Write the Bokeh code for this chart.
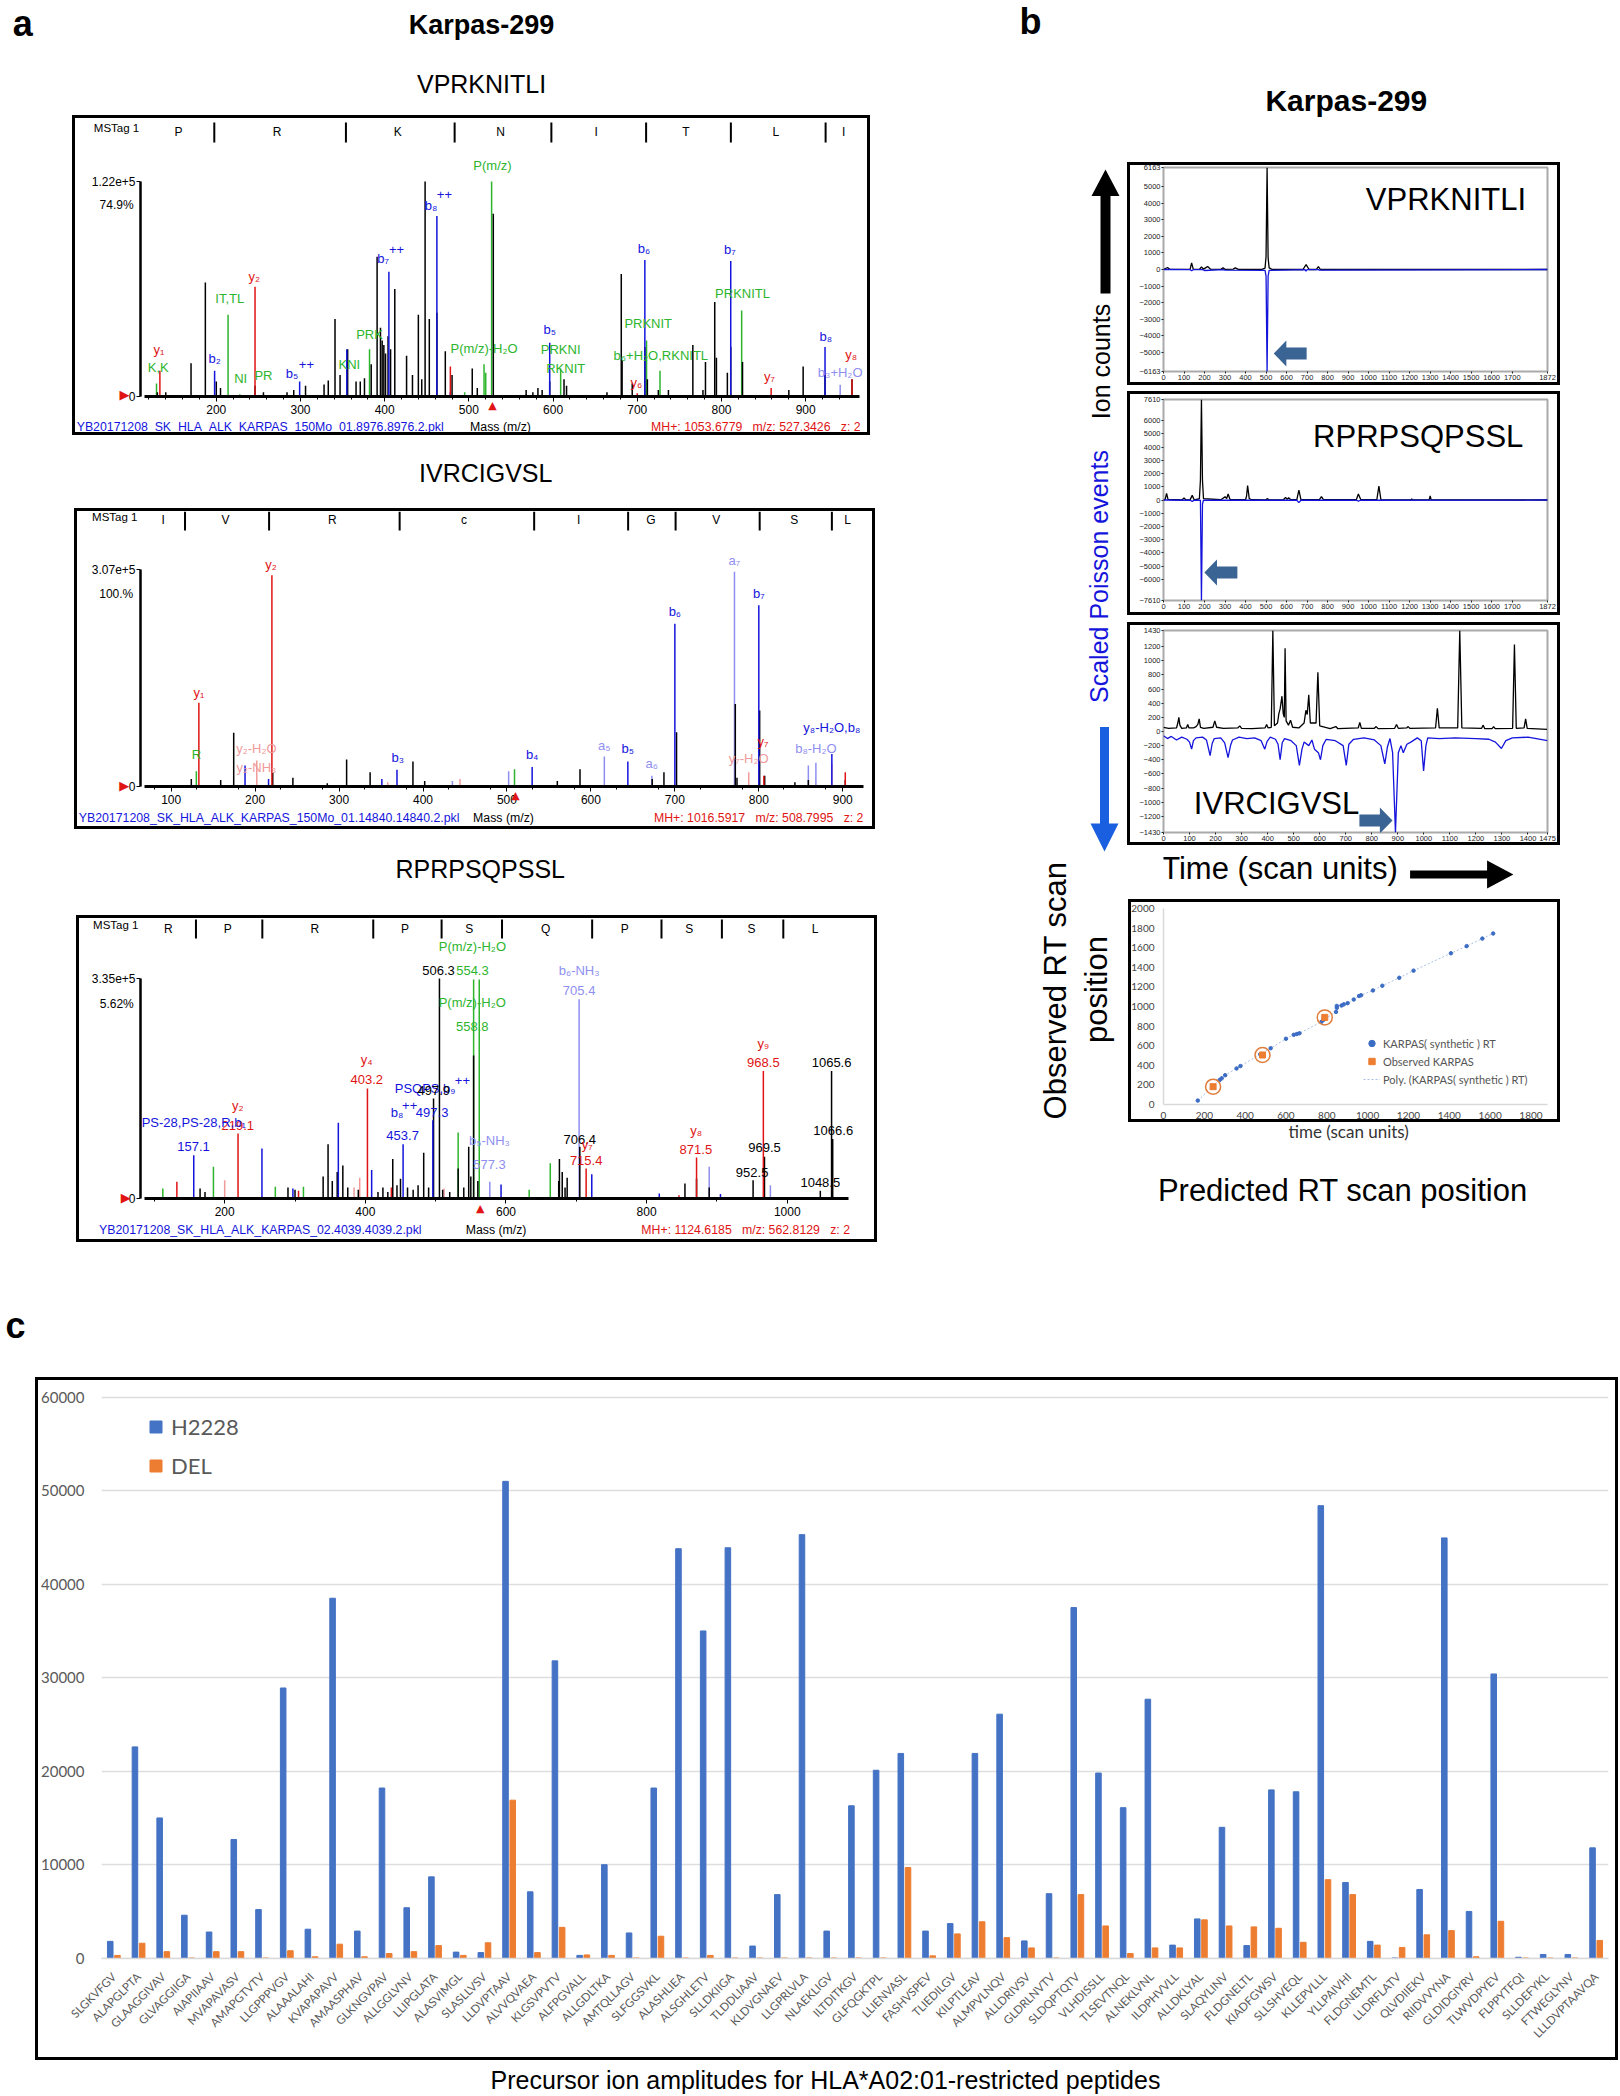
from math import pi
from bokeh.embed import file_html
from bokeh.resources import INLINE
from bokeh.plotting import figure
from bokeh.layouts import column, row
from bokeh.models import (Range1d, FactorRange, LinearAxis, CategoricalAxis, FixedTicker, Grid, Label,
                          Legend, LegendItem, ColumnDataSource)
from bokeh.transform import dodge
from bokeh.core.properties import value

# ---------------- panel c data ----------------
PEPTIDES = ["SLGKVFGV","ALAPGLPTA","GLAAGGIVAV","GLVAGGIIGA","AIAPIIAAV","MVAPAVASV","AMAPGTVTV","LLGPPPVGV","ALAAALAHI","KVAPAPAVV",
            "AMAASPHAV","GLKNGVPAV","ALLGGLVNV","LLIPGLATA","ALASVIMGL","SLASLLVSV","LLDVPTAAV","ALVVQVAEA","KLGSVPVTV","ALFPGVALL",
            "ALLGDLTKA","AMTQLLAGV","SLFGGSVKL","ALASHLIEA","ALSGHLETV","SLLDKIIGA","TLDDLIAAV","KLDVGNAEV","LLGPRLVLA","NLAEKLIGV",
            "ILTDITKGV","GLFQGKTPL","LLIENVASL","FASHVSPEV","TLIEDILGV","KILPTLEAV","ALMPVLNQV","ALLDRIVSV","GLDRLNVTV","SLDQPTQTV",
            "VLHDISSLL","TLSEVTNQL","ALNEKLVNL","ILDPHVVLL","ALLDKLYAL","SLAQYLINV","FLDGNELTL","KIADFGWSV","SLLSHVEQL","KLLEPVLLL",
            "YLLPAIVHI","FLDGNEMTL","LLDRFLATV","QLVDIIEKV","RIIDVVYNA","GLDIDGIYRV","TLWVDPYEV","FLPPYTFQI","SLLDEFYKL","FTWEGLYNV","LLLDVPTAAVQA"]
H2228 = [1800,22600,15000,4600,2800,12700,5200,28900,3100,38500,
         2900,18200,5400,8700,650,600,51000,7100,31800,300,
         10000,2700,18200,43800,35000,43900,1300,6800,45300,2900,
         16300,20100,21900,2900,3700,21900,26100,1850,6900,37500,
         19800,16100,27700,1400,4200,14000,1350,18000,17800,48400,
         8100,1800,0,7350,44950,5000,30400,100,400,400,11800]
DEL = [300,1600,700,0,700,700,0,800,150,1500,
       150,500,700,1350,300,1650,16900,600,3300,350,
       300,0,2350,0,300,0,0,0,0,0,
       0,0,9700,250,2600,3900,2200,1100,0,6800,
       3450,500,1100,1100,4100,3450,3350,3200,1700,8400,
       6800,1400,1150,2500,2950,150,3950,0,0,0,1900]

# ---------------- panel a data (m/z, % of base peak) ----------------
S1_BLACK_MZ = [130,140,170,187,200,205,246,256,284,292,306,328,333,341,347,356,366,371,376,384,391,395,397,399,401,404,407,412,426,433,440,444,448,453,462,472,480,504,510,529,568,576,582,587,596,613,616,664,681,682,694,709,712,725,737,766,778,781,792,794,807,811,825,880,897,923,955]
S1_BLACK_INT = [2,2,15.5,53,7,4,5,2,2,3,5,5.6,7.5,36,10,22,7,7,8.5,15,65,32,26,24,20,28,22,50,19,10,38,8,100,36,39,21,10,13,4,85,3,2,4,3,7,8,5,2,57,17,6,23,8,3,3,24,3,16,44,18,11,23,16,3,14,10,8]
S1_BLUE_MZ = [198,299,355,405,462,478,596,709,811,923]
S1_BLUE_INT = [12,7,22,58,84,2,25,63.5,63,23]
S1_LBLUE_MZ = [941]
S1_LBLUE_INT = [5.5]
S1_GREEN_MZ = [129,214,228,382,495,518,520,527,568,609,711,727,824]
S1_GREEN_INT = [6,38,1,22,2,15,11,100,1,13,26,12,40]
S1_RED_MZ = [133,246,478,700,859,955]
S1_RED_INT = [12,51,14,1.5,4,8]
S1_LRED_MZ = []
S1_LRED_INT = []

S2_BLACK_MZ = [124,159,174.5,221,245,286,309,337,388,402,560,587,673,687,702,772,774,801,807,843,859,903]
S2_BLACK_INT = [3.5,3,24.8,6.6,4,1.5,12.5,6.6,11.5,2.5,2.5,8,3.5,6.6,25,38,4,35,5,2,3,3]
S2_BLUE_MZ = [188,216,351,369,530,644,700,800,887]
S2_BLUE_INT = [9.7,3.5,3.5,7.7,9,11.5,75,83.5,15]
S2_LBLUE_MZ = [435,502,616,672.6,771,859,868]
S2_LBLUE_INT = [2.5,7,13.8,5,99,9.7,11]
S2_GREEN_MZ = [130,509]
S2_GREEN_INT = [7,8]
S2_RED_MZ = [133,220,806,903]
S2_RED_INT = [38.6,97.4,5,6.6]
S2_LRED_MZ = [202,358,444,788,887]
S2_LRED_INT = [12,2,3.5,6.6,10.5]

S3_BLACK_MZ = [165,172,290,300,340,347,353,360,368,375,390,418,425,432,439,445,450,460,468,475,483,490,497,505.4,510,520,532,540,547,550,554,560,675,676,680,684,687,705,854.5,871,889,951.4,967.6,1047,1063,1064.6]
S3_BLACK_INT = [4.5,3,5,4,10,24.7,8,12,15,5,4,3,5,3,18,6,9,5,4,6,20.8,5,45.5,100,4,3,13.6,5,23.5,10,65,8,8,18,12,5,9.4,23.5,6.8,9,5,8.3,19,3.5,58,27]
S3_BLUE_MZ = [156,253,297,361.6,409,453.7,496,593,722,818,905]
S3_BLUE_INT = [19.7,22.7,4.5,34.4,13,24.7,35.6,6.4,11,2.3,2]
S3_LBLUE_MZ = [577,704,889,976]
S3_LBLUE_INT = [7.6,90.6,14.4,6]
S3_GREEN_MZ = [112,184,272,312,532,554,562,633,663]
S3_GREEN_INT = [4.5,14.4,5.3,5.3,30,99.5,99.5,4,16]
S3_RED_MZ = [132,219,305,403,437,714,846,871,966]
S3_RED_INT = [7.6,29.5,3.5,50,5,13.6,1.5,18.6,58]
S3_LRED_MZ = [200,384,392,512]
S3_LRED_INT = [8.3,5,9.4,4.5]

S1_LABELS = [(528,107.6,"P(m/z)","G"),(455,89,"b₈","B"),(471,94,"++","B"),(398,64,"b₇","B"),(414,68.6,"++","B"),(245,56,"y₂","R"),
             (216,45.7,"IT,TL","G"),(708,69,"b₆","B"),(810,68.6,"b₇","B"),(825,48,"PRKNITL","G"),(713,34,"PRKNIT","G"),(609,22,"PRKNI","G"),
             (615,13,"RKNIT","G"),(382,29,"PRK","G"),(358,15,"KNI","G"),(596,31,"b₅","B"),(518,22.4,"P(m/z)-H₂O","G"),(728,19,"b₆+H₂O,RKNITL","G"),
             (132,21.7,"y₁","R"),(131,13.3,"K,K","G"),(198,17.5,"b₂","B"),(229,8.5,"NI","G"),(256,9.8,"PR","G"),(290,10.5,"b₅","B"),(307,15,"++","B"),
             (699,6.3,"y₆","R"),(924,28,"b₈","B"),(954,19.5,"y₈","R"),(857,9.3,"y₇","R"),(941,11,"b₃+H₂O","L")]
S2_LABELS = [(133,43.5,"y₁","R"),(219,102.5,"y₂","R"),(201.5,17.4,"y₂-H₂O","P"),(201.5,8.6,"y₂-NH₃","P"),(130,14.8,"R","G"),(370,13.5,"b₃","B"),
             (530,14.6,"b₄","B"),(616,19,"a₅","L"),(644,17.4,"b₅","B"),(672.6,10.8,"a₆","L"),(700,80.5,"b₆","B"),(771,104,"a₇","L"),(800,89,"b₇","B"),
             (805,20.8,"y₇","R"),(788,12.8,"y₇-H₂O","P"),(868,17.4,"b₈-H₂O","L"),(887,27,"y₈-H₂O,b₈","B")]
S3_LABELS = [(552.3,114.4,"P(m/z)-H₂O","G"),(552.3,103.5,"554.3","G"),(504,103.5,"506.3","K"),(704,103.8,"b₆-NH₃","L"),(704,94.4,"705.4","L"),
             (552,89,"P(m/z)-H₂O","G"),(552,78,"558.8","G"),(966,70.5,"y₉","R"),(966,62,"968.5","R"),(1063,62,"1065.6","K"),(402,63,"y₄","R"),(402,54,"403.2","R"),
             (218.6,42.4,"y₂","R"),(218.6,33,"219.1","R"),(156,34.4,"PS-28,PS-28,R,b₁","B"),(155.6,23.8,"157.1","B"),(485,50,"PSQPS,b₉","B"),(538,53.5,"++","B"),
             (497.4,49,"497.9","K"),(445,39,"b₈","B"),(463,42.4,"++","B"),(495,39,"497.3","B"),(453,28.5,"453.7","B"),(576.5,26.5,"b₅-NH₃","L"),(576.5,15.6,"577.3","L"),
             (705,27,"706.4","K"),(715.5,24.5,"y₇","R"),(714,17.4,"715.4","R"),(870.6,31,"y₈","R"),(870,22.4,"871.5","R"),(967.6,23,"969.5","K"),(950,12,"952.5","K"),
             (1065.4,30.8,"1066.6","K"),(1047,7.3,"1048.5","K")]

# ---------------- panel b data ----------------
B1_X_BLACK = [0,5,20,30,100,130,137,145,175,185,195,205,215,230,280,290,300,340,350,365,480,495,500,505,510,515,530,680,695,710,745,755,765,1872]
B1_Y_BLACK = [0,30,120,20,10,20,400,20,10,150,20,100,180,20,10,110,10,20,100,10,10,80,800,6163,700,100,0,0,300,0,0,180,0,0]
B1_X_BLUE = [0,130,137,145,190,200,290,300,495,500,505,510,515,690,695,700,755,760,1872]
B1_Y_BLUE = [0,-10,-80,-10,-10,-60,-10,-40,-50,-400,-6163,-400,-50,-10,-100,-10,-10,-40,0]
B2_X_BLACK = [0,8,15,22,90,100,110,130,140,150,175,180,185,190,195,280,300,308,315,325,400,405,410,418,430,500,505,515,585,595,603,610,620,650,660,670,760,770,780,940,950,962,1040,1050,1060,1205,1210,1215,1295,1300,1305,1872]
B2_Y_BLACK = [0,50,500,50,0,150,0,30,350,0,100,1500,7610,1500,100,20,250,100,450,20,20,300,1100,100,20,10,100,10,20,200,50,180,20,30,750,20,30,250,20,20,450,20,20,1050,20,10,80,10,10,300,10,0]
B2_X_BLUE = [0,130,140,150,180,185,190,195,650,660,670,940,950,960,1872]
B2_Y_BLUE = [0,-20,-100,-20,-20,-7610,-300,-20,-20,-200,-20,-20,-80,-20,0]
B3_X_BLACK = [0,20,50,55,59,63,70,88,93,98,115,125,132,137,142,155,190,197,204,230,285,293,300,340,390,396,402,414,420,426,438,443,448,455,460,464,467,471,480,488,496,520,540,547,552,558,564,586,593,600,640,662,670,748,754,760,810,817,824,888,895,902,934,940,946,1045,1052,1059,1130,1138,1146,1222,1228,1234,1262,1268,1274,1341,1348,1355,1385,1391,1397,1473]
B3_Y_BLACK = [60,45,50,120,200,90,45,50,100,50,50,70,100,180,60,45,60,150,60,45,50,80,45,40,50,100,50,60,1430,80,120,250,320,500,250,200,1180,150,90,160,60,50,120,300,240,520,120,120,840,80,40,70,40,50,130,45,45,70,40,45,100,45,50,70,45,50,330,50,50,1430,50,45,90,40,40,70,40,45,1230,45,50,180,45,30]
B3_X_BLUE = [0,15,30,50,70,90,100,108,115,125,150,165,179,187,195,220,235,248,258,265,290,320,350,375,389,398,410,430,440,448,456,465,490,510,522,532,540,558,570,580,595,603,612,625,660,690,702,712,730,770,810,835,850,860,870,880,891,902,912,921,935,950,975,990,999,1008,1015,1060,1120,1200,1250,1275,1298,1315,1340,1400,1475]
B3_Y_BLUE = [-60,-100,-70,-120,-80,-110,-150,-250,-130,-90,-80,-120,-340,-170,-100,-90,-160,-370,-190,-120,-80,-100,-90,-130,-250,-140,-80,-110,-180,-400,-160,-100,-130,-200,-480,-250,-150,-200,-120,-250,-300,-400,-200,-110,-130,-200,-480,-180,-110,-90,-120,-200,-460,-220,-100,-300,-1430,-300,-200,-300,-180,-150,-90,-130,-560,-200,-90,-100,-90,-100,-110,-150,-240,-130,-90,-80,-130]
RT_PRED = [168,275,285,302,358,377,474,525,600,638,653,666,774,785,845,849,849,872,883,902,932,958,968,1026,1072,1155,1225,1408,1485,1562,1615]
RT_OBS = [40,250,267,299,368,392,513,574,671,711,719,727,844,865,945,986,1006,1010,1022,1034,1071,1107,1115,1164,1212,1293,1366,1543,1616,1693,1745]
OBS_PRED = [243,485,790]
OBS_RT = [182,505,889]

FONT = "Liberation Sans"
COL = {"K":"#000000","B":"#1414dc","L":"#8f8ff0","R":"#e01414","P":"#f09a9a","G":"#2db52d"}
SP = "\u00a0\u00a0\u00a0"


class Panel:
    def __init__(self, canvas, frame, xcal=None, ycal=None, x_range=None):
        self.cl, self.cr, self.ct, self.cb = canvas
        self.fl, self.fr, self.ft, self.fb = frame
        self.xcal = xcal or (self.fl, self.fl, self.fr, self.fr)
        self.ycal = ycal or (self.ft, self.ft, self.fb, self.fb)
        xr = x_range if x_range is not None else Range1d(self.X(self.fl), self.X(self.fr))
        self.p = figure(width=self.cr-self.cl, height=self.cb-self.ct,
                        min_border_left=self.fl-self.cl, min_border_right=self.cr-self.fr,
                        min_border_top=self.ft-self.ct, min_border_bottom=self.cb-self.fb,
                        x_range=xr, y_range=Range1d(self.Y(self.fb), self.Y(self.ft)),
                        x_axis_type=None, y_axis_type=None, toolbar_location=None, output_backend="svg",
                        background_fill_color="white", border_fill_color="white")
        self.p.outline_line_color = None

    def X(self, px):
        v1, p1, v2, p2 = self.xcal
        return v1 + (px-p1)*(v2-v1)/(p2-p1)

    def Y(self, py):
        v1, p1, v2, p2 = self.ycal
        return v1 + (py-p1)*(v2-v1)/(p2-p1)

    def text(self, px, py, s, size=12, color="black", bold=False, angle=0, align="center", font=FONT, place="center"):
        lab = Label(x=self.X(px), y=self.Y(py), text=s, text_font=font, text_font_size=f"{size}px",
                    text_color=color, text_font_style="bold" if bold else "normal",
                    text_align=align, text_baseline="middle", angle=angle)
        if place == "center":
            self.p.add_layout(lab)
        else:
            self.p.add_layout(lab, place)

    def box(self, l, r, t, b, width=3.5):
        css = (":host::after{content:'';position:absolute;"
               f"left:{l-self.cl}px;top:{t-self.ct}px;width:{r-l}px;height:{b-t}px;"
               f"border:{width}px solid #000;box-sizing:border-box;pointer-events:none;z-index:10;}}")
        self.p.stylesheets = [css]

    def poly(self, xs, ys, color):
        self.p.patch([self.X(v) for v in xs], [self.Y(v) for v in ys], color=color, line_color=None)


def axis(p, where, ticks, overrides=None, size=12, font=FONT, color="black", bounds=None, line=None, lw=1,
         tick_out=3, standoff=2, minor=None):
    ax = LinearAxis(ticker=FixedTicker(ticks=ticks, minor_ticks=minor or []))
    ax.major_label_text_font = font
    ax.major_label_text_font_size = f"{size}px"
    ax.major_label_text_color = color
    ax.major_label_standoff = standoff
    ax.major_tick_in = 0
    ax.major_tick_out = tick_out
    ax.minor_tick_in = 0
    ax.minor_tick_out = 3 if minor else 0
    ax.axis_line_color = line
    ax.axis_line_width = lw
    ax.major_tick_line_color = line or color
    ax.minor_tick_line_color = line or color
    if overrides:
        ax.major_label_overrides = overrides
    if bounds:
        ax.bounds = bounds
    p.add_layout(ax, where)
    return ax


def spectrum(canvas, box, axis_x, top, base, end, xcal, ticks, minor, topl, pct, pct_xy, black, blue, lblue, green, red, lred,
             labels, seq, seq_ticks, seq_y, tag_xy, footer, foot_x, precursor, left_tri, bot_tri):
    L, R, T, B = box
    P = Panel(canvas, (axis_x, R-4, T+3, base), xcal=xcal, ycal=(100, top, 0, base))
    p = P.p
    for (mz, it), c in ((green, "G"), (lblue, "L"), (lred, "P"), (black, "K"), (blue, "B"), (red, "R")):
        if mz:
            p.segment(mz, [0]*len(mz), mz, it, line_color=COL[c], line_width=1.5)
    src = ColumnDataSource(dict(x=[l[0] for l in labels], y=[l[1] for l in labels], t=[l[2] for l in labels],
                                c=[COL[l[3]] for l in labels]))
    p.text("x", "y", text="t", source=src, text_color="c", text_font=value(FONT), text_font_size="13px",
           text_align="center", text_baseline="middle")
    axis(p, "left", [0, 100], {0: "0", 100: topl}, line="black", lw=2.5, bounds=(0, 100), tick_out=4, standoff=1, size=12)
    axis(p, "below", ticks, line="black", lw=3, bounds=(P.X(axis_x+4), P.X(end)), tick_out=5, standoff=3, minor=minor, size=12)
    P.box(L, R, T, B)
    P.text(tag_xy[0], tag_xy[1], "MSTag 1", size=11.5, place="right")
    P.text(pct_xy[0], pct_xy[1], pct, size=12, place="left")
    seq_src = ColumnDataSource(dict(x=[P.X(s[0]) for s in seq], y=[P.Y(seq_y[2])]*len(seq), t=[s[1] for s in seq]))
    p.text("x", "y", text="t", source=seq_src, text_font=value(FONT), text_font_size="12px", text_align="center", text_baseline="middle")
    p.segment([P.X(x) for x in seq_ticks], [P.Y(seq_y[0])]*len(seq_ticks), [P.X(x) for x in seq_ticks], [P.Y(seq_y[1])]*len(seq_ticks),
              line_color="black", line_width=2)
    P.text(foot_x[0], footer[0], footer[1], size=12.3, color="#1414dc", place="above")
    P.text(foot_x[1], footer[0], "Mass (m/z)", size=12.3, place="right")
    P.text(foot_x[2], footer[0], footer[2], size=12.3, color="#e01414", place="above")
    P.text(left_tri[0], left_tri[1], "▶", size=13, color="#e01414", font="DejaVu Sans", place="right")
    P.text(bot_tri[0], bot_tri[1], "▲", size=11, color="#e01414", font="DejaVu Sans", place="right")
    return P


# ---------------- column a ----------------
COL_A = 1018
a1 = spectrum((0, COL_A, 0, 438), (72, 870, 115, 435), 138, 181, 396, 859, (200, 214, 900, 805), list(range(200, 1000, 100)), list(range(120, 960, 20)),
              "1.22e+5", "74.9%", (114, 204),
              (S1_BLACK_MZ, S1_BLACK_INT), (S1_BLUE_MZ, S1_BLUE_INT), (S1_LBLUE_MZ, S1_LBLUE_INT), (S1_GREEN_MZ, S1_GREEN_INT), (S1_RED_MZ, S1_RED_INT), (S1_LRED_MZ, S1_LRED_INT),
              S1_LABELS, [(176,"P"),(275,"R"),(396,"K"),(499,"N"),(595,"I"),(685,"T"),(775,"L"),(843,"I")], [212,344,453,550,645,730,825],
              (122, 142, 131), (114, 127), (426, "YB20171208_SK_HLA_ALK_KARPAS_150Mo_01.8976.8976.2.pkl", f"MH+: 1053.6779{SP}m/z: 527.3426{SP}z: 2"),
              (258, 499, 755), 527, (122, 394), (491, 405))
a1.text(20, 23, "a", size=36, bold=True, place="left")
a1.text(480, 24, "Karpas-299", size=27, bold=True, place="above")
a1.text(480, 83, "VPRKNITLI", size=25, place="above")

a2 = spectrum((0, COL_A, 438, 850), (74, 875, 508, 829), 137, 569, 786, 868, (100, 168, 900, 847), list(range(100, 1000, 100)), list(range(80, 930, 50)),
              "3.07e+5", "100.%", (112.5, 593),
              (S2_BLACK_MZ, S2_BLACK_INT), (S2_BLUE_MZ, S2_BLUE_INT), (S2_LBLUE_MZ, S2_LBLUE_INT), (S2_GREEN_MZ, S2_GREEN_INT), (S2_RED_MZ, S2_RED_INT), (S2_LRED_MZ, S2_LRED_INT),
              S2_LABELS, [(160,"I"),(223,"V"),(331,"R"),(464,"c"),(580,"I"),(653,"G"),(719,"V"),(798,"S"),(852,"L")], [182,267,399,535,630,678,763,836],
              (511, 530, 519), (111, 516), (817, "YB20171208_SK_HLA_ALK_KARPAS_150Mo_01.14840.14840.2.pkl", f"MH+: 1016.5917{SP}m/z: 508.7995{SP}z: 2"),
              (267, 504, 762), 508.8, (120.5, 785), (516, 795))
a2.text(486, 472, "IVRCIGVSL", size=25, place="above")

a3 = spectrum((0, COL_A, 850, 1300), (76, 877, 915, 1242), 140, 978, 1198, 855, (200, 225, 1000, 793), list(range(200, 1200, 200)), list(range(100, 1100, 100)),
              "3.35e+5", "5.62%", (116, 1003),
              (S3_BLACK_MZ, S3_BLACK_INT), (S3_BLUE_MZ, S3_BLUE_INT), (S3_LBLUE_MZ, S3_LBLUE_INT), (S3_GREEN_MZ, S3_GREEN_INT), (S3_RED_MZ, S3_RED_INT), (S3_LRED_MZ, S3_LRED_INT),
              S3_LABELS, [(168,"R"),(228,"P"),(316,"R"),(407,"P"),(472,"S"),(549,"Q"),(629,"P"),(694,"S"),(757,"S"),(821,"L")], [196,263,375,444,505,596,666,727,789],
              (919, 938, 928), (115, 924), (1229, "YB20171208_SK_HLA_ALK_KARPAS_02.4039.4039.2.pkl", f"MH+: 1124.6185{SP}m/z: 562.8129{SP}z: 2"),
              (261, 499, 751), 562.8, (125, 1197), (483, 1208))
a3.text(483, 868, "RPRPSQPSSL", size=25, place="above")

# ---------------- side strip ----------------
side = Panel((COL_A, 1120, 0, 1300), (COL_A, 1120, 0, 1300), xcal=(COL_A, COL_A, 1120, 1120), ycal=(0, 0, 1300, 1300))
side.text(1030, 21, "b", size=36, bold=True)
side.poly([1100,1100,1091,1105,1119,1110,1110], [293,195.6,195.6,169,195.6,195.6,293], "black")
side.text(1100, 361, "Ion counts", size=25, angle=pi/2)
side.text(1098, 576, "Scaled Poisson events", size=25, color="#1414dc", angle=pi/2)
side.poly([1099.5,1099.5,1090,1104,1118,1108.5,1108.5], [726.5,823,823,851,823,823,726.5], "#1a5fe0")
side.text(1054.5, 990, "Observed RT scan", size=31, angle=pi/2)
side.text(1096, 989, "position", size=31, angle=pi/2)


def ic_panel(canvas, box, frame, xcal, ycal, xticks, xover, yticks, yover, black, blue):
    P = Panel(canvas, frame, xcal=xcal, ycal=ycal)
    p = P.p
    p.outline_line_color = "#aaaaaa"
    p.outline_line_width = 2
    p.line(black[0], black[1], line_color="black", line_width=1.3)
    p.line(blue[0], blue[1], line_color="#1414dc", line_width=1.3)
    axis(p, "left", yticks, yover, size=7.5, color="#222222", tick_out=2, standoff=1)
    axis(p, "below", xticks, xover, size=7.5, color="#222222", tick_out=2, standoff=1)
    P.box(*box)
    return P


T_1872 = list(range(0, 1800, 100)) + [1872]
b1 = ic_panel((1120, 1620, 0, 388), (1127, 1560, 162, 385), (1154, 1551, 167, 371), (0, 1154, 1872, 1551), (6163, 167, -6163, 371),
              T_1872, None, [-6163,-5000,-4000,-3000,-2000,-1000,0,1000,2000,3000,4000,5000,6163], None,
              (B1_X_BLACK, B1_Y_BLACK), (B1_X_BLUE, B1_Y_BLUE))
b1.text(1343, 100, "Karpas-299", size=30, bold=True, place="above")
b1.text(1446, 199, "VPRKNITLI", size=31)
b1.poly([1268,1281,1281,1302,1302,1281,1281], [353,340,347,347,359,359,366], "#3a6494")

b2 = ic_panel((1120, 1620, 388, 618), (1127, 1560, 391, 615), (1154, 1549, 399, 600), (0, 1154, 1872, 1549), (7610, 399, -7610, 600),
              T_1872, None, [-7610,-6000,-5000,-4000,-3000,-2000,-1000,0,1000,2000,3000,4000,5000,6000,7610], None,
              (B2_X_BLACK, B2_Y_BLACK), (B2_X_BLUE, B2_Y_BLUE))
b2.text(1416, 436, "RPRPSQPSSL", size=31)
b2.poly([1196,1209,1209,1230,1230,1209,1209], [572,559,566,566,578,578,585], "#3a6494")

b3 = ic_panel((1120, 1620, 618, 850), (1127, 1560, 622, 845), (1153, 1547, 630, 832), (0, 1153, 1475, 1547), (1430, 630, -1430, 832),
              list(range(0, 1500, 100)) + [1475], None,
              [-1430,-1200,-1000,-800,-600,-400,-200,0,200,400,600,800,1000,1200,1430], None,
              (B3_X_BLACK, B3_Y_BLACK), (B3_X_BLUE, B3_Y_BLUE))
b3.text(1269, 803, "IVRCIGVSL", size=31)
b3.poly([1388,1375,1375,1354,1354,1375,1375], [820,807,814,814,826,826,833], "#3a6494")

b4 = Panel((1120, 1620, 850, 1300), (1163, 1557, 852, 1104), xcal=(0, 1163, 1800, 1540), ycal=(2000, 908, 0, 1104))
pb = b4.p
axis(pb, "left", list(range(0, 2200, 200)), size=10, font="Lato", color="#444444", line="#d9d9d9", lw=1.5, tick_out=0, standoff=9, bounds=(0, 2000))
axis(pb, "below", list(range(0, 2000, 200)), size=10, font="Lato", color="#444444", line="#d9d9d9", lw=1.5, tick_out=0, standoff=7)
poly = pb.line(RT_PRED, RT_OBS, line_color="#a9c0e4", line_width=1, line_dash="2 2")
syn = pb.scatter(RT_PRED, RT_OBS, marker="circle", size=3.5, color="#3c6cc4")
obs = pb.scatter(OBS_PRED, OBS_RT, marker="square", size=6, color="#ed7d31")
pb.scatter(OBS_PRED, OBS_RT, marker="circle", size=15, fill_alpha=0, line_color="#e07b39", line_width=1.5)
lg = Legend(items=[LegendItem(label="KARPAS( synthetic ) RT", renderers=[syn]),
                   LegendItem(label="Observed KARPAS", renderers=[obs]),
                   LegendItem(label="Poly. (KARPAS( synthetic ) RT)", renderers=[poly])],
            location=(200, 17), border_line_color=None, background_fill_alpha=0, padding=0, margin=0, spacing=2,
            label_text_font="Lato", label_text_font_size="11px", label_text_color="#555555", label_height=16, glyph_height=16, glyph_width=17, label_standoff=3)
pb.add_layout(lg)
b4.box(1128, 1560, 899, 1122)
b4.text(1282, 868, "Time (scan units)", size=31)
b4.poly([1416,1495,1495,1522,1495,1495,1416], [870,870,860,874,888,878,878], "black")
b4.text(1353, 1131, "time (scan units)", size=17, font="Lato", color="#333333", place="below")
b4.text(1347, 1190, "Predicted RT scan position", size=31, place="below")

# ---------------- panel c ----------------
c = Panel((0, 1620, 1300, 2096), (101, 1608, 1390, 1958), xcal=(0, 101, 61, 1608), ycal=(60000, 1396.7, 0, 1957.7), x_range=FactorRange(factors=PEPTIDES, range_padding=0))
pc = c.p
src_c = ColumnDataSource(dict(cat=PEPTIDES, h=H2228, d=DEL))
rh = pc.vbar(x=dodge("cat", -0.146, range=pc.x_range), top="h", bottom=0, width=0.225, source=src_c, color="#4472c4")
rd = pc.vbar(x=dodge("cat", 0.146, range=pc.x_range), top="d", bottom=0, width=0.225, source=src_c, color="#ed7d31")
yax = axis(pc, "left", list(range(0, 70000, 10000)), size=15, font="Lato", color="#595959", tick_out=0, standoff=17)
yax.major_tick_line_color = None
pc.add_layout(Grid(dimension=1, ticker=yax.ticker, grid_line_color="#dedede", grid_line_width=1.5, level="underlay"))
xax = CategoricalAxis()
xax.major_label_orientation = pi/4
xax.major_label_text_font = "Lato"
xax.major_label_text_font_size = "11.5px"
xax.major_label_text_color = "#595959"
xax.major_label_standoff = 10
xax.major_tick_line_color = None
xax.axis_line_color = "#d9d9d9"
xax.axis_line_width = 1.5
pc.add_layout(xax, "below")
lc = Legend(items=[LegendItem(label="H2228", renderers=[rh]), LegendItem(label="DEL", renderers=[rd])],
            location=(47, 479), border_line_color=None, background_fill_alpha=0, padding=0, margin=0, spacing=12,
            label_text_font="Lato", label_text_font_size="22px", label_text_color="#595959", label_height=26, glyph_height=15, glyph_width=15, label_standoff=8)
pc.add_layout(lc)
c.box(35, 1618, 1377, 2060)
c.text(15, 1325, "c", size=36, bold=True, place="above")
c.text(825, 2079, "Precursor ion amplitudes for HLA*A02:01-restricted peptides", size=25, place="below")

layout = column(row(column(a1.p, a2.p, a3.p, spacing=0), side.p, column(b1.p, b2.p, b3.p, b4.p, spacing=0), spacing=0), c.p, spacing=0)
open("out.html", "w").write(file_html(layout, INLINE))
